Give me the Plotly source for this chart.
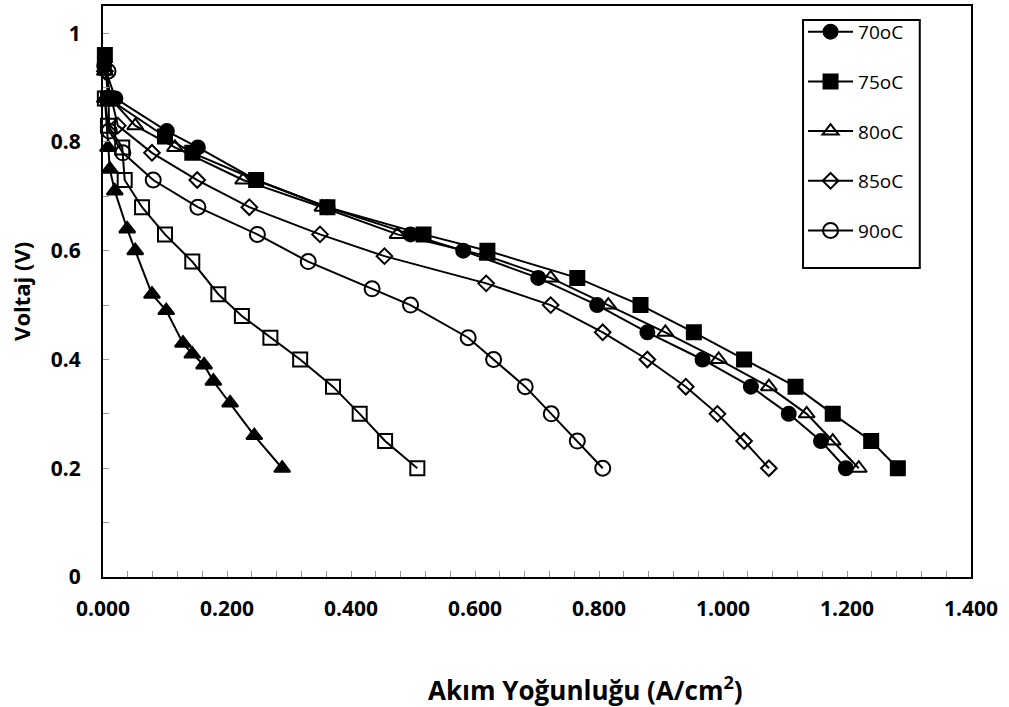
import plotly.graph_objects as go

# Polarization curves: current density (A/cm2) vs cell voltage (V)
x_70 = [0.002, 0.020, 0.103, 0.153, 0.247, 0.362, 0.496, 0.581, 0.702, 0.797, 0.878, 0.967, 1.045, 1.106, 1.158, 1.198]
y_70 = [0.94, 0.88, 0.82, 0.79, 0.73, 0.68, 0.63, 0.60, 0.55, 0.50, 0.45, 0.40, 0.35, 0.30, 0.25, 0.20]

x_75 = [0.003, 0.008, 0.100, 0.144, 0.247, 0.362, 0.517, 0.620, 0.765, 0.867, 0.953, 1.034, 1.117, 1.177, 1.239, 1.282]
y_75 = [0.96, 0.88, 0.81, 0.78, 0.73, 0.68, 0.63, 0.60, 0.55, 0.50, 0.45, 0.40, 0.35, 0.30, 0.25, 0.20]

x_80 = [0.003, 0.012, 0.052, 0.116, 0.226, 0.354, 0.475, 0.620, 0.722, 0.815, 0.907, 0.993, 1.074, 1.135, 1.177, 1.219]
y_80 = [0.93, 0.88, 0.83, 0.79, 0.73, 0.68, 0.63, 0.59, 0.55, 0.50, 0.45, 0.40, 0.35, 0.30, 0.25, 0.20]

x_85 = [0.003, 0.024, 0.079, 0.152, 0.236, 0.350, 0.454, 0.618, 0.722, 0.806, 0.878, 0.940, 0.991, 1.034, 1.074]
y_85 = [0.93, 0.83, 0.78, 0.73, 0.68, 0.63, 0.59, 0.54, 0.50, 0.45, 0.40, 0.35, 0.30, 0.25, 0.20]

x_90 = [0.008, 0.010, 0.032, 0.081, 0.153, 0.249, 0.331, 0.434, 0.496, 0.589, 0.630, 0.681, 0.723, 0.765, 0.806]
y_90 = [0.93, 0.82, 0.78, 0.73, 0.68, 0.63, 0.58, 0.53, 0.50, 0.44, 0.40, 0.35, 0.30, 0.25, 0.20]

x_sq = [0.003, 0.008, 0.031, 0.035, 0.063, 0.100, 0.144, 0.186, 0.224, 0.270, 0.318, 0.371, 0.414, 0.455, 0.507]
y_sq = [0.88, 0.83, 0.79, 0.73, 0.68, 0.63, 0.58, 0.52, 0.48, 0.44, 0.40, 0.35, 0.30, 0.25, 0.20]

x_tri = [0.003, 0.008, 0.011, 0.019, 0.039, 0.052, 0.079, 0.102, 0.129, 0.144, 0.163, 0.178, 0.205, 0.244, 0.289]
y_tri = [0.88, 0.79, 0.75, 0.71, 0.64, 0.60, 0.52, 0.49, 0.43, 0.41, 0.39, 0.36, 0.32, 0.26, 0.20]

x_ticks = [0.0, 0.2, 0.4, 0.6, 0.8, 1.0, 1.2, 1.4]
x_tick_labels = ["0.000", "0.200", "0.400", "0.600", "0.800", "1.000", "1.200", "1.400"]
y_ticks = [0, 0.2, 0.4, 0.6, 0.8, 1.0]
y_tick_labels = ["0", "0.2", "0.4", "0.6", "0.8", "1"]

x_title = "Akım Yoğunluğu (A/cm<sup>2</sup>)"
y_title = "Voltaj (V)"

series = [
    ("70oC", x_70, y_70, "circle", 14, True),
    ("75oC", x_75, y_75, "square", 14, True),
    ("80oC", x_80, y_80, "triangle-up-open", 14, True),
    ("85oC", x_85, y_85, "diamond-open", 12, True),
    ("90oC", x_90, y_90, "circle-open", 15, True),
    ("s6", x_sq, y_sq, "square-open", 14, False),
    ("s7", x_tri, y_tri, "triangle-up", 14, False),
]

FONT = "'Open Sans', Lato, sans-serif"

fig = go.Figure()
for i, (name, xs, ys, sym, size, legend) in enumerate(series):
    fig.add_trace(go.Scatter(
        x=xs, y=ys, name=name, mode="lines+markers",
        line=dict(color="black", width=2),
        marker=dict(symbol=sym, size=size, color="black",
                    line=dict(color="black", width=2)),
        showlegend=legend, legendgroup=f"g{i}",
        cliponaxis=False,
    ))

tick_font = dict(family=FONT, size=21, color="black", weight="bold")

# legend frame
fig.add_shape(type="rect", xref="paper", yref="paper",
              x0=0.8065, x1=0.941, y0=0.541, y1=0.9756,
              line=dict(color="black", width=2), fillcolor="rgba(0,0,0,0)")

# axis titles
fig.add_annotation(text=x_title, xref="paper", yref="paper", x=0.556, y=-0.197,
                   xanchor="center", yanchor="middle", showarrow=False,
                   font=dict(family=FONT, size=26, color="black", weight="bold"))
fig.add_annotation(text=y_title, xref="paper", yref="paper", x=-0.0945, y=0.501,
                   xanchor="center", yanchor="middle", textangle=-90, showarrow=False,
                   font=dict(family=FONT, size=22, color="black", weight="bold"))

fig.update_layout(
    width=1009, height=707,
    margin=dict(l=103, r=38, t=4, b=130),
    paper_bgcolor="white", plot_bgcolor="white",
    showlegend=True,
    legend=dict(
        x=0.8065, y=0.988, xanchor="left", yanchor="top",
        borderwidth=0, bgcolor="rgba(0,0,0,0)",
        font=dict(family=FONT, size=19, color="black"),
        tracegroupgap=22, itemwidth=45,
    ),
    xaxis=dict(
        range=[0, 1.4], tickvals=x_ticks, ticktext=x_tick_labels,
        tickfont=tick_font, showgrid=False, zeroline=False,
        showline=True, linecolor="black", linewidth=2, mirror=True,
        ticks="inside", ticklen=6, tickcolor="#999999",
        ticklabelstandoff=12,
        minor=dict(dtick=0.04, ticks="inside", ticklen=6, tickcolor="#999999", showgrid=False),
    ),
    yaxis=dict(
        range=[0, 1.05], tickvals=y_ticks, ticktext=y_tick_labels,
        tickfont=tick_font, showgrid=False, zeroline=False,
        showline=True, linecolor="black", linewidth=2, mirror=True,
        ticks="inside", ticklen=6, tickcolor="#999999",
        ticklabelstandoff=16,
        minor=dict(dtick=0.1, ticks="inside", ticklen=6, tickcolor="#999999", showgrid=False),
    ),
)

fig.write_html("out.html")
